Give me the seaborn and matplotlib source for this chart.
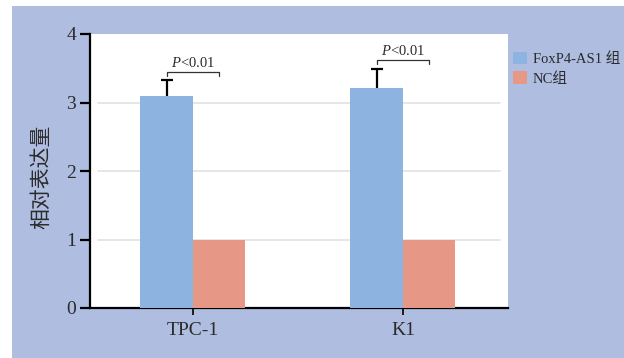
import numpy as np
import pandas as pd
import seaborn as sns
import matplotlib.pyplot as plt
from matplotlib.patches import Patch, Rectangle

# values
cell_lines = ['TPC-1', 'K1']
group_labels = ['FoxP4-AS1 组', 'NC组']
foxp4_means = [3.09, 3.21]
foxp4_err = [0.24, 0.28]
nc_means = [1.0, 1.0]
bracket_y = [3.44, 3.62]
p_text = ['$\\mathit{P}$<0.01', '$\\mathit{P}$<0.01']
y_ticks = [0, 1, 2, 3, 4]

bar_colors = ['#8db3e0', '#e69786']
bg_color = '#aebde0'
text_color = '#2b2b2b'


def main():
    sns.set_theme(style='white')
    plt.rcParams['font.family'] = ['Liberation Serif', 'Noto Sans CJK SC']
    plt.rcParams['mathtext.fontset'] = 'custom'
    plt.rcParams['mathtext.it'] = 'Liberation Serif:italic'
    plt.rcParams['mathtext.rm'] = 'Liberation Serif'

    data = pd.DataFrame({
        'cell': cell_lines * 2,
        'group': [group_labels[0]] * 2 + [group_labels[1]] * 2,
        'value': foxp4_means + nc_means,
    })

    fig = plt.figure(figsize=(6.24, 3.58), dpi=100)
    fig.patch.set_facecolor('white')
    fig.patches.append(Rectangle((12 / 624, 0), 1 - 12 / 624, 1 - 6 / 358,
                                 transform=fig.transFigure, facecolor=bg_color,
                                 edgecolor='none', zorder=-10))
    ax = fig.add_axes([90 / 624, 1 - 308 / 358, 418 / 624, 274 / 358])
    ax.set_facecolor('white')

    sns.barplot(data=data, x='cell', y='value', hue='group', palette=bar_colors,
                width=0.5, gap=0, errorbar=None, saturation=1, linewidth=0,
                legend=False, ax=ax, zorder=3)

    # grid lines, slightly inset like the reference
    for yv in y_ticks[1:-1]:
        ax.axhline(yv, xmin=0.02, xmax=0.98, color='#e2e2e2', lw=1.2, zorder=1)

    # upward-only error bars on the FoxP4-AS1 bars
    xs = np.arange(len(cell_lines)) - 0.125
    tops = np.array(foxp4_means) + np.array(foxp4_err)
    ax.vlines(xs, foxp4_means, tops, color='black', lw=1.6, zorder=4)
    ax.hlines(tops, xs - 0.028, xs + 0.028, color='black', lw=1.6, zorder=4)

    # significance brackets
    for i, (by, txt) in enumerate(zip(bracket_y, p_text)):
        x0, x1 = i - 0.125, i + 0.125
        ax.plot([x0, x0, x1, x1], [by - 0.06, by, by, by - 0.06], color='#333333',
                lw=0.9, zorder=5)
        ax.text(i, by + 0.03, txt, ha='center', va='bottom', fontsize=10.5,
                color=text_color)

    ax.set_xlim(-0.49, 1.5)
    ax.set_ylim(0, 4)
    ax.set_yticks(y_ticks)
    ax.set_xlabel('')
    ax.set_ylabel('相对表达量', fontsize=15, color=text_color,
                  family=['Noto Sans CJK SC'])
    ax.yaxis.set_label_coords(-0.09, 0.48)

    for side in ['top', 'right']:
        ax.spines[side].set_visible(False)
    for side in ['left', 'bottom']:
        ax.spines[side].set_color('black')
        ax.spines[side].set_linewidth(1.6)
    ax.tick_params(axis='y', direction='out', length=7, width=1.6, color='black',
                   labelsize=14, labelcolor=text_color, pad=3, left=True)
    ax.tick_params(axis='x', direction='out', length=5, width=1.2, color='black',
                   labelsize=14, labelcolor=text_color, pad=5, bottom=True)

    handles = [Patch(facecolor=c, edgecolor='none') for c in bar_colors]
    fig.legend(handles, group_labels, loc='upper left',
               bbox_to_anchor=(507 / 624, 1 - 46 / 358), frameon=False,
               fontsize=10.5, handlelength=0.95, handleheight=0.95,
               handletextpad=0.4, labelspacing=0.35, borderaxespad=0,
               labelcolor=text_color)

    fig.savefig('out.png', dpi=100, facecolor=fig.get_facecolor())


if __name__ == '__main__':
    main()
